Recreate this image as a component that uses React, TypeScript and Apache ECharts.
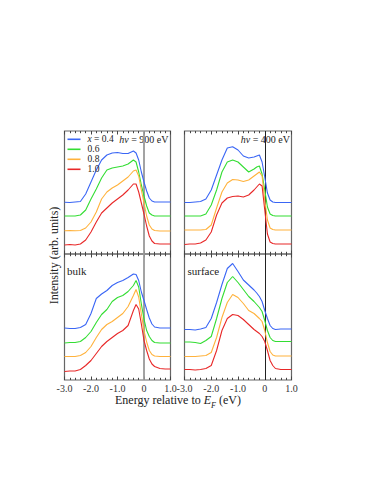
import React, { useEffect, useRef } from 'react';
import * as echarts from 'echarts';

// Binding energy grid (eV, relative to E_F)
const energy = [-3.0, -2.8, -2.6, -2.4, -2.2, -2.0, -1.8, -1.6, -1.4, -1.2, -1.0, -0.8, -0.6, -0.4, -0.3, -0.2, -0.1, 0.0, 0.1, 0.2, 0.3, 0.4, 0.6, 0.8, 1.0];
const xTicks = [-3, -2, -1, 0, 1];
const compositions = ['0.4', '0.6', '0.8', '1.0'];

// hv = 900 eV (offset spectra, arb. units)
const hv900_x04 = [51.7, 51.5, 52, 52.5, 60, 72, 84, 94, 99, 101, 101.5, 100.5, 100.5, 103, 101, 94, 82, 72, 63, 56, 53, 52, 52, 52, 52];
const hv900_x06 = [38, 38, 38, 39, 44, 55, 65, 76, 84, 86, 87, 88, 90, 94, 92, 82, 69, 58, 48, 41, 39, 38, 38, 38, 38];
const hv900_x08 = [23.3, 23.5, 23.3, 23.5, 26, 32, 42, 55, 62, 66, 69, 73, 77, 83, 84, 78, 64, 51, 38, 29, 25, 23.5, 23, 23, 23];
const hv900_x10 = [9, 9.5, 9, 10, 14, 22, 32, 41, 46, 51, 55, 59, 64, 70, 70, 62, 51, 40, 28, 18, 13, 10.5, 10, 10, 10];

// hv = 400 eV
const hv400_x04 = [51.5, 51.5, 52, 52.5, 55, 64, 79, 94, 106, 107.3, 104, 98, 96, 97, 98, 99, 92, 77, 61, 54, 52, 51.5, 51.5, 51.5, 51.5];
const hv400_x06 = [38, 38, 38, 38, 40, 49, 64, 82, 92, 94, 92, 87, 82, 85, 87, 88, 80, 64, 47, 40, 38.5, 38, 38, 38, 38];
const hv400_x08 = [24, 24, 24, 24, 24.5, 29, 46, 62, 71, 74.5, 74, 72.5, 74, 78, 80, 82, 78, 54, 34, 26, 24.5, 24, 24, 24, 24];
const hv400_x10 = [9.5, 10, 10, 11, 14, 22, 39, 51, 56, 57.5, 58, 57, 59, 64, 67, 70, 68, 44, 20, 12, 10.5, 10, 10, 10, 10];

// bulk
const bulk_x04 = [52, 51.5, 51.5, 52.5, 55.5, 66.5, 81.5, 86, 89.5, 94.5, 97.5, 99.5, 102.5, 106, 105.5, 99.5, 88, 79.5, 70.5, 62, 56, 53, 52, 52, 52];
const bulk_x06 = [37, 37.5, 37.5, 38.5, 42.5, 48.5, 57.5, 65.5, 70.5, 78.5, 82.5, 84.5, 88.5, 94.5, 99.5, 93, 76, 61, 49.5, 43.5, 39.5, 37.5, 37, 37, 37];
const bulk_x08 = [23.5, 23.5, 23.5, 24.5, 27.5, 33.5, 42.5, 50.5, 55.5, 58.5, 62.5, 66.5, 73.5, 84.5, 90.5, 83, 66, 49.5, 38, 29.5, 25.5, 24, 23.5, 23.5, 23.5];
const bulk_x10 = [8.5, 9, 9, 10.5, 14.5, 19.5, 26.5, 33.5, 38.5, 42.5, 46.5, 49.5, 54.5, 69.5, 75.5, 71, 56, 39.5, 29.5, 21, 16, 13.5, 11.5, 11, 11];

// surface
const surf_x04 = [50.5, 50.5, 50, 51, 52.5, 61.5, 77.5, 95.5, 111.5, 116.5, 108.5, 100, 95, 90, 87, 83.5, 78.5, 69.5, 61.5, 54.5, 51.5, 50.5, 51, 51, 51];
const surf_x06 = [38, 38, 37.5, 36.5, 39.5, 43.5, 61.5, 81.5, 97.5, 103.5, 97.5, 90.5, 83.5, 78.5, 75.5, 72.5, 68.5, 59.5, 49.5, 42.5, 39.5, 38.5, 38.5, 38.5, 38.5];
const surf_x08 = [23.5, 23.5, 23.5, 24, 24.5, 27.5, 42.5, 62.5, 77.5, 85.5, 82.5, 76.5, 69.5, 66.5, 64, 61.5, 58.5, 49.5, 37.5, 28.5, 25, 24, 24, 24, 24];
const surf_x10 = [10.5, 10.5, 10, 10.5, 11.5, 14.5, 29.5, 49.5, 61.5, 65.5, 64.5, 60.5, 55.5, 50.5, 48.5, 46.5, 43.5, 38.5, 29.5, 19.5, 14.5, 11.5, 10.5, 10.5, 10.5];

const panelData = [
  [hv900_x04, hv900_x06, hv900_x08, hv900_x10],
  [hv400_x04, hv400_x06, hv400_x08, hv400_x10],
  [bulk_x04, bulk_x06, bulk_x08, bulk_x10],
  [surf_x04, surf_x06, surf_x08, surf_x10],
];

const COLORS = ['#3a66f5', '#33dd33', '#ffb23c', '#e82828'];
const FONT = 'Liberation Serif';

const GRIDS = [
  { left: 64.5, top: 131, width: 106, height: 123, yMax: 123, zero: '#999999', zeroW: 1.8, labels: false },
  { left: 184.5, top: 131, width: 107, height: 123, yMax: 123, zero: '#222222', zeroW: 1, labels: false },
  { left: 64.5, top: 254, width: 106, height: 126, yMax: 126, zero: '#999999', zeroW: 1.8, labels: true },
  { left: 184.5, top: 254, width: 107, height: 126, yMax: 126, zero: '#222222', zeroW: 1, labels: true },
];

function buildOption(): any {
  const grid = GRIDS.map((g) => ({
    left: g.left, top: g.top, width: g.width, height: g.height,
    show: true, borderColor: '#666', borderWidth: 1.2, backgroundColor: 'transparent',
  }));
  const xAxis: any[] = [];
  GRIDS.forEach((g, p) => {
    ['bottom', 'top'].forEach((pos) => {
      xAxis.push({
        gridIndex: p, type: 'value', min: xTicks[0], max: xTicks[xTicks.length - 1], interval: 1, position: pos,
        axisLine: { show: false },
        axisTick: { show: true, inside: true, length: 3.5, lineStyle: { color: '#444', width: 1 } },
        minorTick: { show: true, splitNumber: 5, length: 2.2, lineStyle: { color: '#444', width: 1 } },
        splitLine: { show: false }, minorSplitLine: { show: false },
        axisLabel: {
          show: g.labels && pos === 'bottom', margin: 3, color: '#333', fontFamily: FONT, fontSize: 10,
          formatter: (v: number) => (v === 0 ? '0' : v.toFixed(1)),
        },
      });
    });
  });
  const yAxis = GRIDS.map((g, p) => ({
    gridIndex: p, type: 'value', min: 0, max: g.yMax,
    axisLine: { show: false }, axisTick: { show: false }, axisLabel: { show: false }, splitLine: { show: false },
  }));
  const series: any[] = [];
  panelData.forEach((curves, p) => {
    curves.forEach((vals, i) => {
      const s: any = {
        type: 'line', name: compositions[i], xAxisIndex: p * 2, yAxisIndex: p,
        data: energy.map((e, k) => [e, vals[k]]),
        symbol: 'none', lineStyle: { width: 1.1, color: COLORS[i] }, itemStyle: { color: COLORS[i] },
        z: 3, silent: true,
      };
      if (i === 0) {
        s.markLine = {
          silent: true, symbol: ['none', 'none'], label: { show: false }, z: 1,
          lineStyle: { color: GRIDS[p].zero, width: GRIDS[p].zeroW, type: 'solid' },
          emphasis: { disabled: true },
          data: [{ xAxis: 0, lineStyle: { color: GRIDS[p].zero, width: GRIDS[p].zeroW, type: 'solid' } }],
        };
      }
      series.push(s);
    });
  });

  const tStyle = (size: number, italic = false) => ({ fontFamily: FONT, fontSize: size, fontStyle: italic ? 'italic' : 'normal', fill: '#222' });

  return {
    animation: false,
    textStyle: { fontFamily: FONT },
    grid, xAxis, yAxis, series,
    legend: {
      data: compositions, orient: 'vertical', left: 67.5, top: 134.3, padding: 0,
      itemWidth: 13, itemHeight: 1.6, itemGap: 0, icon: 'rect', selectedMode: false,
      formatter: (n: string) => (n === '0.4' ? '{i|x}{n| = 0.4}' : n),
      textStyle: {
        fontFamily: FONT, fontSize: 9.5, lineHeight: 9.6, color: '#222', padding: [0, 0, 0, 2],
        rich: {
          i: { fontFamily: FONT, fontSize: 9.5, fontStyle: 'italic', color: '#222', lineHeight: 9.6 },
          n: { fontFamily: FONT, fontSize: 9.5, color: '#222', lineHeight: 9.6 },
        },
      },
    },
    graphic: [
      {
        type: 'text', x: 53.5, y: 255.5, rotation: Math.PI / 2,
        style: { text: 'Intensity (arb. units)', ...tStyle(12), align: 'center', verticalAlign: 'middle' },
      },
      {
        type: 'text', x: 178, y: 400,
        style: {
          text: '{n|Energy relative to }{i|E}{s|F}{n| (eV)}', align: 'center', verticalAlign: 'middle', ...tStyle(12),
          rich: {
            n: { ...tStyle(12), lineHeight: 16 },
            i: { ...tStyle(12, true), lineHeight: 16 },
            s: { ...tStyle(8, true), lineHeight: 18, verticalAlign: 'bottom' },
          },
        },
      },
      {
        type: 'text', x: 168.5, y: 139.5,
        style: {
          text: '{i|hν}{n| = 900 eV}', align: 'right', verticalAlign: 'middle', ...tStyle(10),
          rich: { i: tStyle(10, true), n: tStyle(10) },
        },
      },
      {
        type: 'text', x: 290, y: 139.5,
        style: {
          text: '{i|hν}{n| = 400 eV}', align: 'right', verticalAlign: 'middle', ...tStyle(10),
          rich: { i: tStyle(10, true), n: tStyle(10) },
        },
      },
      {
        type: 'text', x: 67, y: 271,
        style: { text: 'bulk', ...tStyle(11), align: 'left', verticalAlign: 'middle' },
      },
      {
        type: 'text', x: 187.5, y: 271,
        style: { text: 'surface', ...tStyle(11), align: 'left', verticalAlign: 'middle' },
      },
    ],
  };
}

export default function App() {
  const ref = useRef<HTMLDivElement>(null);
  useEffect(() => {
    if (!ref.current) return;
    const chart = echarts.init(ref.current, null, { renderer: 'svg' });
    chart.setOption(buildOption());
    return () => chart.dispose();
  }, []);
  return (
    <div
      ref={ref}
      style={{ position: 'fixed', left: 0, top: 0, width: 371, height: 480, background: '#fff' }}
    />
  );
}
